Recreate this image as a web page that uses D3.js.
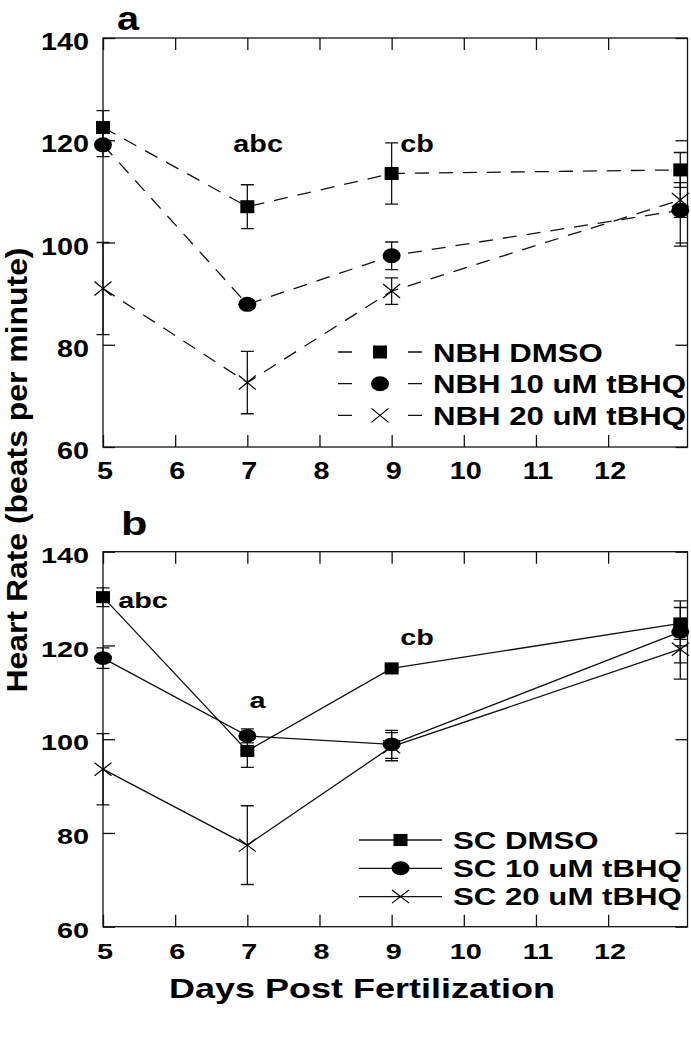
<!DOCTYPE html>
<html>
<head>
<meta charset="utf-8">
<script src="https://cdn.jsdelivr.net/npm/d3@7"></script>
<style>
  body { margin: 0; background: #fff; }
  text { font-family: "Liberation Sans", Arial, sans-serif; font-weight: bold; fill: #000; }
</style>
</head>
<body>
<div id="chart"></div>
<script>
// days sampled
const days = [5, 7, 9, 13];

// panel a, NBH
const nbhDmso = [122.5, 107.0, 113.5, 114.2];
const nbhDmsoErr = [3.3, 4.3, 6.0, 3.4];
const nbh10 = [119.1, 87.9, 97.4, 106.3];
const nbh10Err = [2.3, 0.8, 2.7, 7.0];
const nbh20 = [91.0, 72.6, 90.5, 108.3];
const nbh20Err = [9.0, 6.1, 2.6, 3.4];

// panel b, SC
const scDmso = [130.3, 97.5, 115.1, 124.7];
const scDmsoErr = [2.0, 3.5, 0.6, 3.4];
const sc10 = [117.3, 100.7, 98.9, 122.9];
const sc10Err = [2.2, 1.5, 3.0, 6.6];
const sc20 = [93.6, 77.4, 98.4, 119.2];
const sc20Err = [7.6, 8.4, 3.0, 6.4];

const xTicks = [5, 6, 7, 8, 9, 10, 11, 12];
const yTicks = [60, 80, 100, 120, 140];

const annotA = [
  { text: "abc", day: 7.15, value: 117.7, anchor: "middle" },
  { text: "cb", day: 9.12, value: 117.7, anchor: "start" }
];
const annotB = [
  { text: "abc", day: 5.21, value: 128.0, anchor: "start" },
  { text: "a", day: 7.14, value: 106.7, anchor: "middle" },
  { text: "cb", day: 9.12, value: 120.1, anchor: "start" }
];

const width = 691, height = 1050;
const sx = 1.2; // text is drawn a little wide

const svg = d3.select("#chart").append("svg")
  .attr("width", width)
  .attr("height", height);

const x = d3.scaleLinear().domain([5, 13.1]).range([103, 687.5]);

function label(g, px, py, str, size, anchor, scaleX, scaleY) {
  return g.append("text")
    .attr("transform", `translate(${px},${py}) scale(${scaleX || sx},${scaleY || 1})`)
    .attr("text-anchor", anchor || "start")
    .style("font-size", size + "px")
    .text(str);
}

function drawMarker(g, shape, cx, cy, sy) {
  if (shape === "square") {
    g.append("rect")
      .attr("x", cx - 7).attr("y", cy - 6.5 * sy)
      .attr("width", 14).attr("height", 13 * sy)
      .attr("fill", "#000");
  } else if (shape === "circle") {
    g.append("ellipse")
      .attr("cx", cx).attr("cy", cy)
      .attr("rx", 9).attr("ry", 7.5 * sy)
      .attr("fill", "#000");
  } else {
    const h = 7 * sy;
    g.append("path")
      .attr("d", `M${cx - 8.5},${cy - h}L${cx + 8.5},${cy + h}M${cx - 8.5},${cy + h}L${cx + 8.5},${cy - h}`)
      .attr("stroke", "#000")
      .attr("stroke-width", 1.2)
      .attr("fill", "none");
  }
}

function drawPanel(opts) {
  const y = d3.scaleLinear().domain([60, 140]).range([opts.bottom, opts.top]);
  const sy = opts.sy;
  const g = svg.append("g");
  const dash = opts.dashed ? "14,10" : null;

  // ticks, all pointing inward
  g.append("g").attr("transform", `translate(0,${opts.bottom})`)
    .call(d3.axisBottom(x).tickValues(xTicks).tickSize(-12).tickFormat(""));
  g.append("g").attr("transform", `translate(0,${opts.top})`)
    .call(d3.axisTop(x).tickValues(xTicks).tickSize(-12).tickFormat(""));
  g.append("g").attr("transform", `translate(${x.range()[0]},0)`)
    .call(d3.axisLeft(y).tickValues(yTicks).tickSize(-12).tickFormat(""));
  g.append("g").attr("transform", `translate(${x.range()[1]},0)`)
    .call(d3.axisRight(y).tickValues(yTicks).tickSize(-12).tickFormat(""));
  g.selectAll(".domain").remove();
  g.selectAll(".tick line").attr("stroke", "#111").attr("stroke-width", 1.3);

  g.append("rect")
    .attr("x", x.range()[0]).attr("y", opts.top)
    .attr("width", x.range()[1] - x.range()[0])
    .attr("height", opts.bottom - opts.top)
    .attr("fill", "none")
    .attr("stroke", "#111")
    .attr("stroke-width", 1.3);

  // tick labels
  yTicks.forEach(v => label(g, 89, y(v) + 12 * sy, String(v), 24, "end", sx, sy));
  xTicks.forEach(d => label(g, x(d) + 2, opts.bottom + 32, String(d), 24, "middle", sx, sy));

  // series lines
  const line = d3.line().x(d => x(d[0])).y(d => y(d[1]));
  opts.series.forEach(s => {
    g.append("path")
      .datum(days.map((d, i) => [d, s.values[i]]))
      .attr("d", line)
      .attr("fill", "none")
      .attr("stroke", "#111")
      .attr("stroke-width", 1.3)
      .attr("stroke-dasharray", dash);
  });

  // error bars
  opts.series.forEach(s => {
    days.forEach((d, i) => {
      const cx = x(d), lo = y(s.values[i] - s.errors[i]), hi = y(s.values[i] + s.errors[i]);
      g.append("path")
        .attr("d", `M${cx},${lo}V${hi}M${cx - 6.5},${lo}H${cx + 6.5}M${cx - 6.5},${hi}H${cx + 6.5}`)
        .attr("stroke", "#111")
        .attr("stroke-width", 1.3)
        .attr("fill", "none");
    });
  });

  // markers
  opts.series.forEach(s => {
    days.forEach((d, i) => drawMarker(g, s.shape, x(d), y(s.values[i]), sy));
  });

  // significance letters
  opts.annot.forEach(a => label(g, x(a.day), y(a.value), a.text, 24, a.anchor, sx, sy));

  // legend
  const l = opts.legend;
  opts.series.forEach((s, i) => {
    const ly = l.y + i * l.step;
    g.append("line")
      .attr("x1", l.x0).attr("x2", l.x1)
      .attr("y1", ly).attr("y2", ly)
      .attr("stroke", "#111")
      .attr("stroke-width", 1.3)
      .attr("stroke-dasharray", opts.dashed ? "14,56" : null);
    drawMarker(g, s.shape, (l.x0 + l.x1) / 2, ly, sy);
    label(g, l.tx, ly + 9.5 * sy, s.name, 26, "start", sx, sy);
  });

  label(g, opts.letterX, opts.letterY, opts.letter, opts.letterSize, "start", 1.2, sy);
}

drawPanel({
  top: 38, bottom: 447, dashed: true, sy: 1,
  letter: "a", letterX: 117, letterY: 30, letterSize: 33,
  annot: annotA,
  legend: { x0: 338, x1: 422, tx: 433, y: 352, step: 31.7 },
  series: [
    { name: "NBH DMSO", values: nbhDmso, errors: nbhDmsoErr, shape: "square" },
    { name: "NBH 10 uM tBHQ", values: nbh10, errors: nbh10Err, shape: "circle" },
    { name: "NBH 20 uM tBHQ", values: nbh20, errors: nbh20Err, shape: "x" }
  ]
});

drawPanel({
  top: 551.7, bottom: 926.7, dashed: false, sy: 0.93,
  letter: "b", letterX: 121, letterY: 535, letterSize: 36,
  annot: annotB,
  legend: { x0: 359, x1: 442, tx: 453, y: 840, step: 28.3 },
  series: [
    { name: "SC DMSO", values: scDmso, errors: scDmsoErr, shape: "square" },
    { name: "SC 10 uM tBHQ", values: sc10, errors: sc10Err, shape: "circle" },
    { name: "SC 20 uM tBHQ", values: sc20, errors: sc20Err, shape: "x" }
  ]
});

// axis titles
label(svg, 362, 998, "Days Post Fertilization", 30, "middle", sx, 0.95);

svg.append("text")
  .attr("transform", "translate(27,470) rotate(-90)")
  .attr("text-anchor", "middle")
  .attr("textLength", 445)
  .attr("lengthAdjust", "spacingAndGlyphs")
  .style("font-size", "30px")
  .text("Heart Rate (beats per minute)");
</script>
</body>
</html>
